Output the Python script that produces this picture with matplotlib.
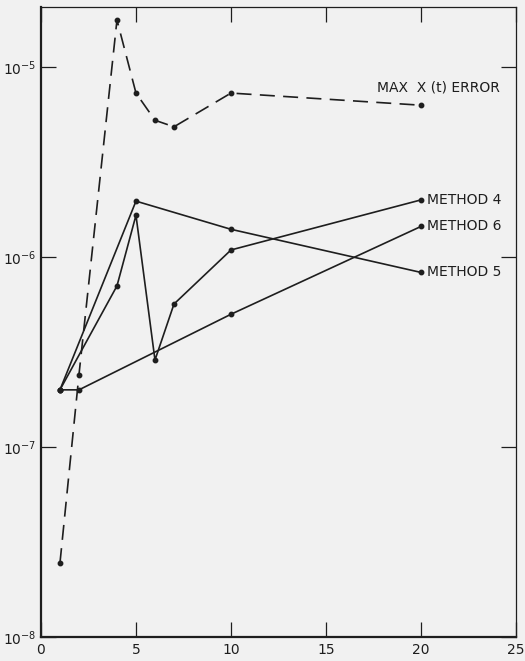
import math

import matplotlib
matplotlib.use("Agg")
import matplotlib.pyplot as plt
from matplotlib.ticker import FixedLocator, NullLocator, FuncFormatter

# values
MAX_X = [1, 2, 4, 5, 6, 7, 10, 20]
MAX_ERR = [2.45e-8, 2.4e-7, 1.77e-5, 7.3e-6, 5.25e-6, 4.85e-6, 7.3e-6, 6.3e-6]

M4_X = [1, 4, 5, 6, 7, 10, 20]
M4_ERR = [2.0e-7, 7.05e-7, 1.66e-6, 2.87e-7, 5.66e-7, 1.09e-6, 2.0e-6]

M5_X = [1, 5, 10, 20]
M5_ERR = [2.0e-7, 1.97e-6, 1.4e-6, 8.3e-7]

M6_X = [1, 2, 10, 20]
M6_ERR = [2.0e-7, 2.0e-7, 5.0e-7, 1.45e-6]

LABELS = ["METHOD 4", "METHOD 6", "METHOD 5"]
LABEL_Y = [M4_ERR[-1], M6_ERR[-1], M5_ERR[-1]]

X_TICKS = [0, 5, 10, 15, 20, 25]
Y_TICKS = [1e-8, 1e-7, 1e-6, 1e-5]

BG = "#f1f1f1"
INK = "#1e1e1e"


def power_label(value, pos):
    return r"$\mathregular{10^{%d}}$" % round(math.log10(value))


fig = plt.figure(figsize=(5.25, 6.61), dpi=100, facecolor=BG)
ax = fig.add_axes([0.078, 0.0363, 0.905, 0.953], facecolor=BG)
ax.set_yscale("log")

line_kw = dict(color=INK, lw=1.2, marker="o", markersize=3.2)
ax.plot(MAX_X, MAX_ERR, dashes=(9, 5), **line_kw)
ax.plot(M4_X, M4_ERR, **line_kw)
ax.plot(M5_X, M5_ERR, **line_kw)
ax.plot(M6_X, M6_ERR, **line_kw)

ax.text(17.7, 7.85e-6, "MAX  X (t) ERROR", fontsize=10, color=INK,
        ha="left", va="center")
for label, y in zip(LABELS, LABEL_Y):
    ax.text(20.3, y, label, fontsize=10, color=INK, ha="left", va="center")

ax.set_xlim(0, 25)
ax.set_ylim(1e-8, 2.07e-5)

ax.xaxis.set_major_locator(FixedLocator(X_TICKS))
ax.yaxis.set_major_locator(FixedLocator(Y_TICKS))
ax.yaxis.set_minor_locator(NullLocator())
ax.yaxis.set_major_formatter(FuncFormatter(power_label))

ax.tick_params(axis="both", which="major", direction="in", length=11,
               width=0.9, colors=INK, top=True, right=True)
ax.tick_params(axis="x", labelsize=10, pad=4)
ax.tick_params(axis="y", labelsize=10, pad=3)

for side in ["left", "bottom"]:
    ax.spines[side].set_linewidth(1.6)
for side in ["top", "right"]:
    ax.spines[side].set_linewidth(0.9)
for spine in ax.spines.values():
    spine.set_color(INK)

fig.savefig("out.png", dpi=100, facecolor=BG)
